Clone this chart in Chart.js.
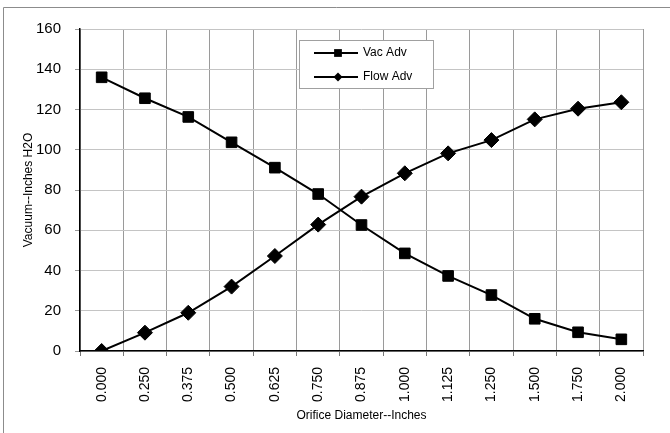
<!DOCTYPE html>
<html>
<head>
<meta charset="utf-8">
<script src="https://cdn.jsdelivr.net/npm/chart.js@4/dist/chart.umd.min.js"></script>
<style>
  body { margin: 0; background: #fff; }
  canvas { display: block; }
</style>
</head>
<body>
<canvas id="myChart" width="670" height="433"></canvas>
<script>
// valeurs
var diameters = ['0.000', '0.250', '0.375', '0.500', '0.625', '0.750', '0.875', '1.000', '1.125', '1.250', '1.500', '1.750', '2.000'];
var vacAdv = [136, 125.6, 116.3, 103.7, 91.1, 78, 62.6, 48.5, 37.3, 27.8, 16, 9.3, 5.8];
var flowAdv = [0, 9.1, 19, 32, 47.2, 62.8, 76.7, 88.3, 98.2, 104.8, 115.1, 120.4, 123.6];
var yTicks = [0, 20, 40, 60, 80, 100, 120, 140, 160];

var fontFamily = '"Liberation Sans", Arial, sans-serif';

// cadre gris autour du graphique (haut et gauche)
var frame = {
  id: 'frame',
  beforeDraw: function(chart) {
    var ctx = chart.ctx;
    ctx.save();
    ctx.strokeStyle = '#8c8c8c';
    ctx.lineWidth = 1;
    ctx.beginPath();
    ctx.moveTo(3.5, chart.height);
    ctx.lineTo(3.5, 7.5);
    ctx.lineTo(chart.width, 7.5);
    ctx.stroke();
    ctx.restore();
  }
};

// légende dans la zone du graphique
var boxLegend = {
  id: 'boxLegend',
  afterDraw: function(chart) {
    var ctx = chart.ctx;
    ctx.save();
    ctx.fillStyle = '#fff';
    ctx.strokeStyle = '#a0a0a0';
    ctx.lineWidth = 1;
    ctx.fillRect(299.5, 40.5, 134, 48);
    ctx.strokeRect(299.5, 40.5, 134, 48);
    chart.data.datasets.forEach(function(ds, i) {
      var y = 53 + i * 24;
      ctx.strokeStyle = '#000';
      ctx.fillStyle = '#000';
      ctx.lineWidth = 2;
      ctx.beginPath();
      ctx.moveTo(314, y);
      ctx.lineTo(358, y);
      ctx.stroke();
      Chart.helpers.drawPoint(ctx, {pointStyle: ds.pointStyle, radius: ds.pointStyle === 'rect' ? 5.5 : 4.5, borderWidth: 0, rotation: 0}, 338, y);
      ctx.fillStyle = '#000';
      ctx.font = '12px ' + fontFamily;
      ctx.textBaseline = 'middle';
      ctx.textAlign = 'left';
      ctx.fillText(ds.label, 363, y);
    });
    ctx.restore();
  }
};

var ctx = document.getElementById('myChart').getContext('2d');
var chart = new Chart(ctx, {
  type: 'line',
  data: {
    labels: diameters,
    datasets: [{
      label: 'Vac Adv',
      data: vacAdv,
      borderColor: '#000',
      backgroundColor: '#000',
      borderWidth: 2,
      pointStyle: 'rect',
      pointRadius: 7.5,
      pointBorderWidth: 1,
      pointHoverRadius: 7.5,
      tension: 0
    },
    {
      label: 'Flow Adv',
      data: flowAdv,
      borderColor: '#000',
      backgroundColor: '#000',
      borderWidth: 2,
      pointStyle: 'rectRot',
      pointRadius: 7.5,
      pointBorderWidth: 1,
      pointHoverRadius: 7.5,
      tension: 0
    }]
  },
  options: {
    responsive: false,
    animation: false,
    layout: { padding: { left: 15, top: 29, right: 27, bottom: 8 } },
    plugins: {
      legend: { display: false },
      tooltip: { enabled: false }
    },
    scales: {
      x: {
        offset: true,
        afterFit: function(scale) { scale.height = 74; },
        grid: { offset: true, color: '#9a9a9a', lineWidth: 1, tickLength: 5, tickColor: '#777' },
        border: { color: '#000', width: 1.5 },
        ticks: {
          minRotation: 90, maxRotation: 90, padding: 11,
          color: '#000', font: { family: fontFamily, size: 14 }
        },
        title: {
          display: true, text: 'Orifice Diameter--Inches',
          color: '#000', font: { family: fontFamily, size: 12 },
          padding: { top: 0, bottom: 2 }
        }
      },
      y: {
        min: 0, max: 160,
        afterFit: function(scale) { scale.width = 65; },
        afterBuildTicks: function(scale) {
          scale.ticks = yTicks.map(function(v) { return { value: v }; });
        },
        grid: { color: '#c4c4c4', lineWidth: 1, tickLength: 5, tickColor: '#999' },
        border: { color: '#000', width: 1.5 },
        ticks: {
          padding: 14,
          color: '#000', font: { family: fontFamily, size: 15 }
        },
        title: {
          display: true, text: 'Vacuum--Inches H2O',
          color: '#000', font: { family: fontFamily, size: 12 },
          padding: { top: 6, bottom: 0 }
        }
      }
    }
  },
  plugins: [frame, boxLegend]
});
</script>
</body>
</html>
